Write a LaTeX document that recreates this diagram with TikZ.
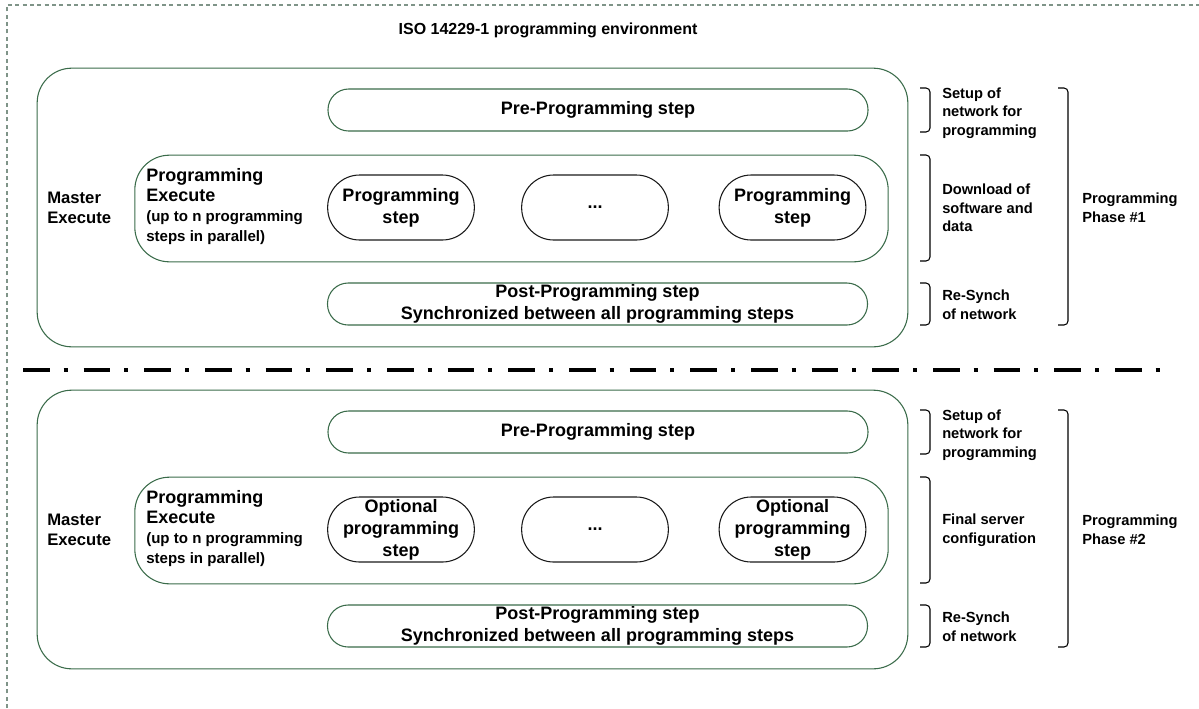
\documentclass[tikz,border=0pt]{standalone}
\usepackage{fontspec}
\setmainfont{Liberation Sans}
\usetikzlibrary{positioning}
\definecolor{frameColor}{HTML}{7F9488}
\definecolor{boxColor}{HTML}{3A6B4A}
\definecolor{pillColor}{HTML}{1A1A1A}

\begin{document}
\begin{tikzpicture}[
    x=0.75pt, y=-0.75pt,
    % Box Styles
    base/.style={
        draw=boxColor,
        line width=0.8pt,
        align=center,
        inner sep=0pt,
        font=\fontsize{13.5}{16.5}\selectfont\bfseries
    },
    masterBox/.style={
        base,
        minimum width=653pt,
        minimum height=209pt,
        rounded corners=26pt
    },
    stepBox/.style={
        base,
        minimum width=405pt,
        minimum height=31.5pt,
        rounded corners=15.5pt
    },
    execBox/.style={
        base,
        minimum width=565pt,
        minimum height=80pt,
        rounded corners=26pt
    },
    pill/.style={
        base,
        draw=pillColor,
        minimum width=110pt,
        minimum height=48.75pt,
        rounded corners=24pt
    },
    % Text Styles
    titleText/.style={
        font=\fontsize{12}{14}\selectfont\bfseries
    },
    masterLabel/.style={
        align=left,
        anchor=west,
        inner sep=0pt,
        font=\fontsize{12.5}{15.5}\selectfont\bfseries
    },
    execLabel/.style={
        align=left,
        anchor=west,
        inner sep=0pt,
        font=\fontsize{13.5}{15}\selectfont\bfseries
    },
    sideLabel/.style={
        align=left,
        anchor=west,
        inner sep=0pt,
        font=\fontsize{11}{14}\selectfont\bfseries
    },
    % Line Styles
    bracket/.style={
        draw=black,
        line width=0.8pt,
        rounded corners=3pt
    },
    separator/.style={
        line width=3pt,
        dash pattern=on 20pt off 10.5pt on 3pt off 12pt
    },
    frame/.style={
        draw=frameColor,
        line width=0.8pt,
        dash pattern=on 3pt off 2.5pt
    }
]
    \newcommand{\smallLine}{\fontsize{11.3}{14.5}\selectfont}
    \useasboundingbox (0,0) rectangle (1199,708);

    % --- ENVIRONMENT FRAME ---
    \draw[frame] (7,708) -- (7,5) -- (1199,5);
    \node[titleText] (title) at (548,30) {ISO 14229-1 programming environment};

    % --- PHASE 1 ---
    \node[masterBox] (master1) at (472.5,207.5) {};
    \node[masterLabel] (masterText1) at (47,208) {Master\\Execute};

    \node[stepBox] (pre1) at (598,110) {Pre-Programming step};

    \node[execBox] (exec1) at (511.5,208.5) {};
    \node[execLabel] (execText1) at (146,207) {Programming\\Execute\\\smallLine(up to n programming\\\smallLine steps in parallel)};
    \node[pill] (step1a) at (401,207.5) {Programming\\step};
    \node[pill] (step1b) at (595,207.5) {...};
    \node[pill] (step1c) at (792.5,207.5) {Programming\\step};

    \node[stepBox] (post1) at (597.5,304) {Post-Programming step\\Synchronized between all programming steps};

    % Brackets and side notes
    \draw[bracket] (920,88) -- (930,88) -- (930,132) -- (920,132);
    \draw[bracket] (920,155) -- (930,155) -- (930,261) -- (920,261);
    \draw[bracket] (920,283) -- (930,283) -- (930,325) -- (920,325);
    \draw[bracket] (1058,88) -- (1068,88) -- (1068,325) -- (1058,325);

    \node[sideLabel] (setup1) at (942,113) {Setup of\\network for\\programming};
    \node[sideLabel] (download1) at (942,208) {Download of\\software and\\data};
    \node[sideLabel] (resynch1) at (942,305) {Re-Synch\\of network};
    \node[sideLabel] (phase1) at (1082,208) {Programming\\Phase \#1};

    % --- SEPARATOR ---
    \coordinate (sepStart) at (23,370);
    \coordinate (sepEnd) at (1174,370);
    \draw[separator] (sepStart) -- (sepEnd);

    % --- PHASE 2 ---
    \node[masterBox] (master2) at (472.5,529.5) {};
    \node[masterLabel] (masterText2) at (47,530) {Master\\Execute};

    \node[stepBox] (pre2) at (598,432) {Pre-Programming step};

    \node[execBox] (exec2) at (511.5,530.5) {};
    \node[execLabel] (execText2) at (146,529) {Programming\\Execute\\\smallLine(up to n programming\\\smallLine steps in parallel)};
    \node[pill] (step2a) at (401,529.5) {Optional\\programming\\step};
    \node[pill] (step2b) at (595,529.5) {...};
    \node[pill] (step2c) at (792.5,529.5) {Optional\\programming\\step};

    \node[stepBox] (post2) at (597.5,626) {Post-Programming step\\Synchronized between all programming steps};

    % Brackets and side notes
    \draw[bracket] (920,410) -- (930,410) -- (930,454) -- (920,454);
    \draw[bracket] (920,477) -- (930,477) -- (930,583) -- (920,583);
    \draw[bracket] (920,605) -- (930,605) -- (930,647) -- (920,647);
    \draw[bracket] (1058,410) -- (1068,410) -- (1068,647) -- (1058,647);

    \node[sideLabel] (setup2) at (942,435) {Setup of\\network for\\programming};
    \node[sideLabel] (config2) at (942,530) {Final server\\configuration};
    \node[sideLabel] (resynch2) at (942,627) {Re-Synch\\of network};
    \node[sideLabel] (phase2) at (1082,530) {Programming\\Phase \#2};

\end{tikzpicture}
\end{document}
